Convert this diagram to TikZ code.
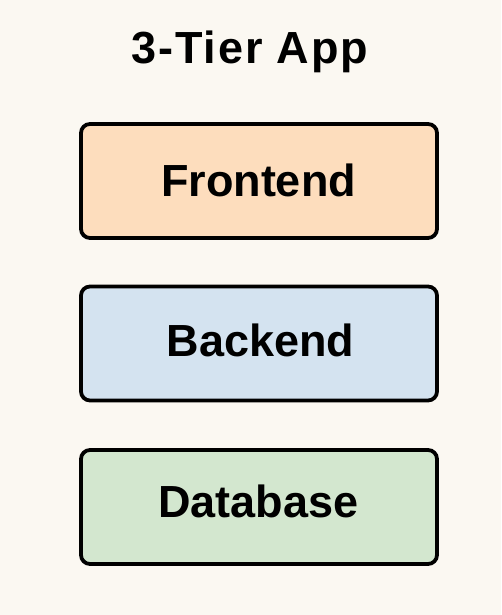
\documentclass[tikz,border=0pt]{standalone}
\usepackage{fontspec}
\setmainfont{Liberation Sans}
\usetikzlibrary{positioning}
\definecolor{bgc}{HTML}{FBF8F2}
\definecolor{fec}{HTML}{FDDDBD}
\definecolor{bec}{HTML}{D4E3F0}
\definecolor{dbc}{HTML}{D3E7CF}
\tikzset{
  tier/.style={draw=black, line width=3.8pt, rounded corners=9pt, minimum width=356pt, minimum height=114pt, inner sep=0pt},
  tierlabel/.style={font=\fontsize{45}{48}\selectfont\bfseries, anchor=base, inner sep=0pt},
  titlelabel/.style={font=\addfontfeatures{LetterSpace=4}\fontsize{45}{48}\selectfont\bfseries, anchor=base, inner sep=0pt}
}
\begin{document}
\begin{tikzpicture}[x=1pt,y=1pt]
\fill[bgc] (0,0) rectangle (501,615);
\useasboundingbox (0,0) rectangle (501,615);
\node[titlelabel] (title) at (250,551) {3-Tier App};
\node[tier, fill=fec] (fe) at (259,434) {};
\node[tier, fill=bec] (be) at (259,271.5) {};
\node[tier, fill=dbc] (db) at (259,108) {};
\node[tierlabel] (fet) at (258.5,418) {Frontend};
\node[tierlabel] (bet) at (260.5,258) {Backend};
\node[tierlabel] (dbt) at (258.5,97) {Database};
\end{tikzpicture}
\end{document}
